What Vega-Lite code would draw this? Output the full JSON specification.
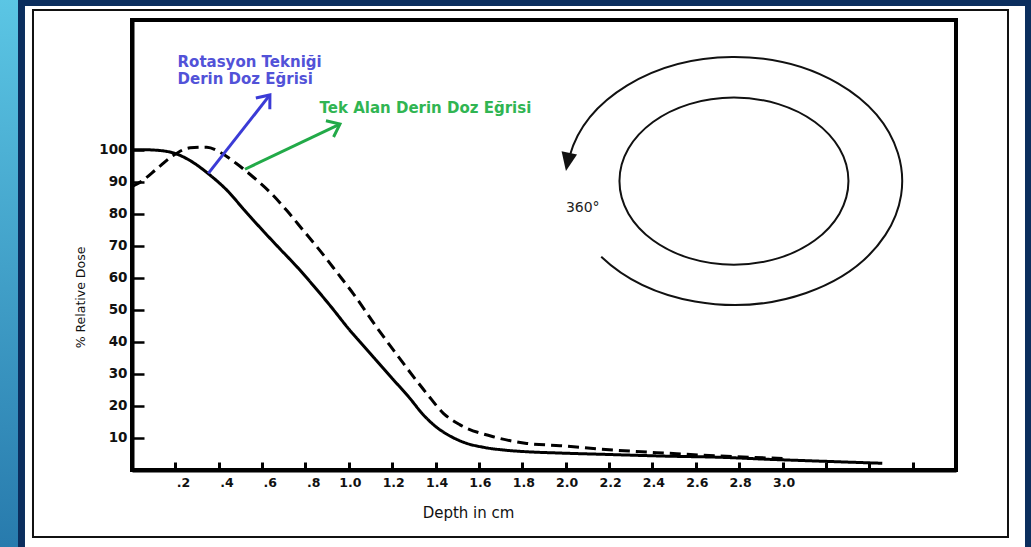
{
  "$schema": "https://vega.github.io/schema/vega-lite/v6.json",
  "width": 824,
  "height": 450,
  "autosize": {"type": "none"},
  "padding": {"left": 132, "top": 20, "right": 75, "bottom": 77},
  "background": "white",
  "config": {
    "view": {"stroke": "black", "strokeWidth": 4},
    "font": "DejaVu Sans"
  },
  "datasets": {
    "navy": [
      {"depth": -0.7, "depth2": -0.4935, "dose": -30, "dose2": 150},
      {"depth": -0.7, "depth2": 4.3, "dose": 144.87, "dose2": 150},
      {"depth": 4.1182, "depth2": 4.3, "dose": -30, "dose2": 150}
    ],
    "strip": [
      {"depth": -0.7, "depth2": -0.5257, "dose": -30, "dose2": 150}
    ],
    "border": [
      {"depth": -0.4566, "depth2": 4.0398, "dose": -20.92, "dose2": 143.62}
    ],
    "rotcenter": [
      {"depth": 2.776, "dose": 90.2}
    ],
    "curves": [
      {"curve": "Rotasyon", "depth": 0, "dose": 100},
      {"curve": "Rotasyon", "depth": 0.05, "dose": 100},
      {"curve": "Rotasyon", "depth": 0.12, "dose": 99.8},
      {"curve": "Rotasyon", "depth": 0.2, "dose": 98.8},
      {"curve": "Rotasyon", "depth": 0.28, "dose": 96.1},
      {"curve": "Rotasyon", "depth": 0.35, "dose": 92.6},
      {"curve": "Rotasyon", "depth": 0.44, "dose": 87.2},
      {"curve": "Rotasyon", "depth": 0.52, "dose": 81.0},
      {"curve": "Rotasyon", "depth": 0.6, "dose": 75.0},
      {"curve": "Rotasyon", "depth": 0.68, "dose": 69.2},
      {"curve": "Rotasyon", "depth": 0.76, "dose": 63.5},
      {"curve": "Rotasyon", "depth": 0.84, "dose": 57.3},
      {"curve": "Rotasyon", "depth": 0.92, "dose": 50.8},
      {"curve": "Rotasyon", "depth": 1.0, "dose": 44.0},
      {"curve": "Rotasyon", "depth": 1.1, "dose": 36.3},
      {"curve": "Rotasyon", "depth": 1.2, "dose": 28.6},
      {"curve": "Rotasyon", "depth": 1.28, "dose": 22.5},
      {"curve": "Rotasyon", "depth": 1.34, "dose": 17.5},
      {"curve": "Rotasyon", "depth": 1.4, "dose": 13.6},
      {"curve": "Rotasyon", "depth": 1.47, "dose": 10.5},
      {"curve": "Rotasyon", "depth": 1.54, "dose": 8.4},
      {"curve": "Rotasyon", "depth": 1.62, "dose": 7.1},
      {"curve": "Rotasyon", "depth": 1.72, "dose": 6.2},
      {"curve": "Rotasyon", "depth": 1.82, "dose": 5.7},
      {"curve": "Rotasyon", "depth": 1.97, "dose": 5.3},
      {"curve": "Rotasyon", "depth": 2.17, "dose": 4.9},
      {"curve": "Rotasyon", "depth": 2.48, "dose": 4.3},
      {"curve": "Rotasyon", "depth": 2.7, "dose": 4.0},
      {"curve": "Rotasyon", "depth": 2.95, "dose": 3.3},
      {"curve": "Rotasyon", "depth": 3.2, "dose": 2.7},
      {"curve": "Rotasyon", "depth": 3.46, "dose": 2.1},
      {"curve": "Tek Alan", "depth": 0, "dose": 88.5},
      {"curve": "Tek Alan", "depth": 0.045, "dose": 90.2},
      {"curve": "Tek Alan", "depth": 0.114, "dose": 94.0},
      {"curve": "Tek Alan", "depth": 0.19, "dose": 98.2},
      {"curve": "Tek Alan", "depth": 0.268, "dose": 100.6},
      {"curve": "Tek Alan", "depth": 0.345, "dose": 100.8},
      {"curve": "Tek Alan", "depth": 0.406, "dose": 99.2},
      {"curve": "Tek Alan", "depth": 0.483, "dose": 95.6},
      {"curve": "Tek Alan", "depth": 0.56, "dose": 91.4},
      {"curve": "Tek Alan", "depth": 0.637, "dose": 86.7},
      {"curve": "Tek Alan", "depth": 0.714, "dose": 81.0},
      {"curve": "Tek Alan", "depth": 0.79, "dose": 74.8},
      {"curve": "Tek Alan", "depth": 0.867, "dose": 68.5},
      {"curve": "Tek Alan", "depth": 0.944, "dose": 61.8},
      {"curve": "Tek Alan", "depth": 1.021, "dose": 55.0},
      {"curve": "Tek Alan", "depth": 1.128, "dose": 44.6},
      {"curve": "Tek Alan", "depth": 1.205, "dose": 37.5},
      {"curve": "Tek Alan", "depth": 1.359, "dose": 23.9},
      {"curve": "Tek Alan", "depth": 1.436, "dose": 17.7},
      {"curve": "Tek Alan", "depth": 1.513, "dose": 14.1},
      {"curve": "Tek Alan", "depth": 1.666, "dose": 10.4},
      {"curve": "Tek Alan", "depth": 1.82, "dose": 8.3},
      {"curve": "Tek Alan", "depth": 1.974, "dose": 7.6},
      {"curve": "Tek Alan", "depth": 2.166, "dose": 6.5},
      {"curve": "Tek Alan", "depth": 2.479, "dose": 5.2},
      {"curve": "Tek Alan", "depth": 2.698, "dose": 4.4},
      {"curve": "Tek Alan", "depth": 3.0, "dose": 3.6}
    ],
    "arrowBlue": [
      {"depth": 0.352, "dose": 92.6, "depth2": 0.636, "dose2": 117.1}
    ],
    "arrowGreen": [
      {"depth": 0.521, "dose": 93.9, "depth2": 0.959, "dose2": 108.0}
    ],
    "tipBlue": [{"depth": 0.636, "dose": 117.1}],
    "tipGreen": [{"depth": 0.959, "dose": 108.0}],
    "textBlue": [
      {"depth": 0.21, "dose": 127.5, "label": "Rotasyon Tekniği"},
      {"depth": 0.21, "dose": 122.0, "label": "Derin Doz Eğrisi"}
    ],
    "textGreen": [
      {"depth": 0.865, "dose": 113.0, "label": "Tek Alan Derin Doz Eğrisi"}
    ],
    "textBlack": [
      {"depth": 2.001, "dose": 81.8, "label": "360°"}
    ]
  },
  "encoding": {
    "x": {
      "field": "depth",
      "type": "quantitative",
      "scale": {"domain": [0, 3.8], "nice": false, "zero": false},
      "axis": {
        "values": [0.2, 0.4, 0.6, 0.8, 1.0, 1.2, 1.4, 1.6, 1.8, 2.0, 2.2, 2.4, 2.6, 2.8, 3.0, 3.2, 3.4, 3.6],
        "labelExpr": "datum.value > 3.05 ? '' : replace(format(datum.value, '.1f'), '0.', '.')",
        "labelAlign": {"condition": {"test": "datum.value < 0.95", "value": "left"}, "value": "center"},
        "labelOffset": 1,
        "grid": false,
        "zindex": 1,
        "domainColor": "black",
        "domainWidth": 4,
        "tickColor": "black",
        "tickWidth": 3,
        "tickSize": -8,
        "labelPadding": 14,
        "labelFont": "DejaVu Sans",
        "labelFontSize": 12.5,
        "labelFontWeight": "bold",
        "labelColor": "#111",
        "title": "Depth in cm",
        "titleX": 336,
        "titleY": 42,
        "titleAlign": "center",
        "titleBaseline": "middle",
        "titleFont": "DejaVu Sans",
        "titleFontSize": 15,
        "titleFontWeight": "normal",
        "titleColor": "#111"
      }
    },
    "y": {
      "field": "dose",
      "type": "quantitative",
      "scale": {"domain": [0, 140.5], "nice": false, "zero": false},
      "axis": {
        "values": [10, 20, 30, 40, 50, 60, 70, 80, 90, 100],
        "grid": false,
        "zindex": 1,
        "domainColor": "black",
        "domainWidth": 4,
        "tickColor": "black",
        "tickWidth": 2.5,
        "tickSize": -12,
        "labelPadding": 17,
        "labelFont": "DejaVu Sans",
        "labelFontSize": 13.5,
        "labelFontWeight": "bold",
        "labelColor": "#111",
        "title": "% Relative Dose",
        "titleX": -52,
        "titleY": 277,
        "titleAngle": -90,
        "titleAlign": "center",
        "titleBaseline": "middle",
        "titleFont": "DejaVu Sans",
        "titleFontSize": 12.5,
        "titleFontWeight": "normal",
        "titleColor": "#111"
      }
    }
  },
  "layer": [
    {
      "data": {"name": "navy"},
      "mark": {"type": "rect", "fill": "#0b2e5e", "stroke": null},
      "encoding": {"x2": {"field": "depth2"}, "y2": {"field": "dose2"}}
    },
    {
      "data": {"name": "strip"},
      "mark": {
        "type": "rect",
        "stroke": null,
        "fill": {
          "gradient": "linear", "x1": 0, "y1": 0, "x2": 0, "y2": 1,
          "stops": [
            {"offset": 0, "color": "#5cc7e5"},
            {"offset": 1, "color": "#2678ab"}
          ]
        }
      },
      "encoding": {"x2": {"field": "depth2"}, "y2": {"field": "dose2"}}
    },
    {
      "data": {"name": "border"},
      "mark": {"type": "rect", "fill": "transparent", "stroke": "#111", "strokeWidth": 2},
      "encoding": {"x2": {"field": "depth2"}, "y2": {"field": "dose2"}}
    },
    {
      "data": {"name": "rotcenter"},
      "mark": {
        "type": "point",
        "shape": "M -1,0 A 1,0.73 0 1,1 1,0 A 1,0.73 0 1,1 -1,0 Z",
        "size": 52441,
        "filled": false,
        "stroke": "#111",
        "strokeWidth": 2,
        "opacity": 1
      }
    },
    {
      "data": {"name": "rotcenter"},
      "mark": {
        "type": "point",
        "shape": "M -0.79,0.45 A 1,0.738 0 1,0 -0.978,-0.15",
        "size": 112896,
        "filled": false,
        "stroke": "#111",
        "strokeWidth": 2,
        "opacity": 1
      }
    },
    {
      "data": {"name": "rotcenter"},
      "mark": {
        "type": "point",
        "shape": "M -1.0,-0.06 L -1.026,-0.178 L -0.934,-0.158 Z",
        "size": 112896,
        "filled": true,
        "fill": "#111",
        "strokeWidth": 0,
        "opacity": 1
      }
    },
    {
      "data": {"name": "curves"},
      "mark": {"type": "line", "interpolate": "monotone", "color": "black", "strokeWidth": 3, "strokeCap": "butt"},
      "encoding": {
        "strokeDash": {
          "field": "curve",
          "type": "nominal",
          "scale": {"domain": ["Rotasyon", "Tek Alan"], "range": [[1, 0], [11, 6]]},
          "legend": null
        }
      }
    },
    {
      "data": {"name": "arrowBlue"},
      "mark": {"type": "rule", "color": "#3b3bd6", "strokeWidth": 3},
      "encoding": {"x2": {"field": "depth2"}, "y2": {"field": "dose2"}}
    },
    {
      "data": {"name": "arrowGreen"},
      "mark": {"type": "rule", "color": "#22aa48", "strokeWidth": 3},
      "encoding": {"x2": {"field": "depth2"}, "y2": {"field": "dose2"}}
    },
    {
      "data": {"name": "tipBlue"},
      "mark": {
        "type": "point",
        "shape": "M -0.6,0.75 L 0,0 L 0.6,0.75",
        "size": 900,
        "angle": 39,
        "filled": false,
        "stroke": "#3b3bd6",
        "strokeWidth": 3,
        "opacity": 1
      }
    },
    {
      "data": {"name": "tipGreen"},
      "mark": {
        "type": "point",
        "shape": "M -0.6,0.75 L 0,0 L 0.6,0.75",
        "size": 900,
        "angle": 65,
        "filled": false,
        "stroke": "#22aa48",
        "strokeWidth": 3,
        "opacity": 1
      }
    },
    {
      "data": {"name": "textBlue"},
      "mark": {"type": "text", "align": "left", "baseline": "middle", "font": "DejaVu Sans", "fontSize": 15, "fontWeight": "bold", "color": "#5252d8"},
      "encoding": {"text": {"field": "label"}}
    },
    {
      "data": {"name": "textGreen"},
      "mark": {"type": "text", "align": "left", "baseline": "middle", "font": "DejaVu Sans", "fontSize": 15, "fontWeight": "bold", "color": "#30b552"},
      "encoding": {"text": {"field": "label"}}
    },
    {
      "data": {"name": "textBlack"},
      "mark": {"type": "text", "align": "left", "baseline": "middle", "font": "DejaVu Sans", "fontSize": 14, "color": "#222"},
      "encoding": {"text": {"field": "label"}}
    }
  ]
}
